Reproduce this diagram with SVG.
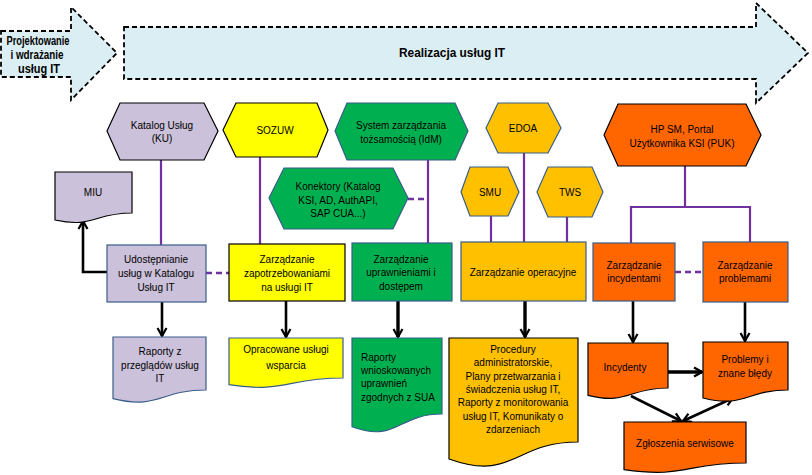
<svg xmlns="http://www.w3.org/2000/svg" width="812" height="475" viewBox="0 0 812 475">
<defs>
<style>
text{font-family:"Liberation Sans",Arial,sans-serif;font-size:10px;fill:#000;text-anchor:middle}
.hdr{font-weight:bold;font-size:12px}
.phase{fill:#DAEEF3;stroke:#000;stroke-width:1.8;stroke-dasharray:5,3}
.lav{fill:#CCC1DA}
.yel{fill:#FFFF00}
.grn{fill:#00B050}
.gold{fill:#FFC000}
.org{fill:#FF6600}
.bk{stroke:#000;stroke-width:1.2}
.bl{stroke:#385D8A;stroke-width:1.2}
.pl{stroke:#7030A0;stroke-width:2.2;fill:none}
.pd{stroke:#7030A0;stroke-width:2.5;fill:none;stroke-dasharray:6,4}
.ar{stroke:#000;stroke-width:2.6;fill:none}
.ar2{stroke:#000;stroke-width:3.4;fill:none}
.l{text-anchor:start}
</style>
<marker id="ah" viewBox="0 0 12 12" markerUnits="userSpaceOnUse" markerWidth="12" markerHeight="12" refX="10" refY="6" orient="auto-start-reverse">
<path d="M2,1.5 L10,6 L2,10.5" fill="none" stroke="#000" stroke-width="2.2"/>
</marker>
</defs>

<g id="phase-projektowanie">
<path class="phase" d="M1,31 H71 V7 L117,53 L71,100 V77 H1 Z"/>
<text class="hdr" x="38" y="45" textLength="63" lengthAdjust="spacingAndGlyphs">Projektowanie</text>
<text class="hdr" x="37" y="59" textLength="53" lengthAdjust="spacingAndGlyphs">i wdrażanie</text>
<text class="hdr" x="39" y="73" textLength="42" lengthAdjust="spacingAndGlyphs">usług IT</text>
</g>
<g id="phase-realizacja">
<path class="phase" d="M124,27 H756 V3 L808,53 L756,103 V79 H124 Z"/>
<text class="hdr" x="452" y="57" font-size="13" textLength="106" lengthAdjust="spacingAndGlyphs">Realizacja usług IT</text>
</g>

<g id="connectors">
<path class="pl" d="M161,160 V245"/>
<path class="pl" d="M260,157 V244"/>
<path class="pl" d="M428,160 V243"/>
<path class="pd" d="M408,199 H428"/>
<path class="pl" d="M524,153 V242"/>
<path class="pl" d="M491,216 V242"/>
<path class="pl" d="M567,217 V242"/>
<path class="pl" d="M685,166 V207 M631,243 V207 H750 V242"/>
<path class="pd" d="M206,273 H229"/>
<path class="pd" d="M675,272 H703"/>
<path class="ar" d="M107,272 H83 V221" marker-end="url(#ah)"/>
<path class="ar" d="M162,302 V336" marker-end="url(#ah)"/>
<path class="ar" d="M286,301 V337" marker-end="url(#ah)"/>
<path class="ar2" d="M398,301 V337" marker-end="url(#ah)"/>
<path class="ar2" d="M525,301 V337" marker-end="url(#ah)"/>
<path class="ar" d="M633,301 V342" marker-end="url(#ah)"/>
<path class="ar" d="M745,302 V341" marker-end="url(#ah)"/>
<path class="ar2" d="M668,372 H702" marker-end="url(#ah)"/>
<path class="ar" d="M631,396 L681,421" marker-end="url(#ah)"/>
<path class="ar" d="M683,421 L733,398" marker-start="url(#ah)" marker-end="url(#ah)"/>
</g>

<g id="katalog-uslug">
<polygon class="lav bk" points="107,131 120,103 204,103 218,131 204,160 120,160"/>
<text x="162" y="128.5">Katalog Usług</text>
<text x="162" y="142">(KU)</text>
</g>
<g id="sozuw">
<polygon class="yel bk" points="223,130 236,103 317,103 328,130 317,157 236,157"/>
<text x="275" y="133.5">SOZUW</text>
</g>
<g id="idm">
<polygon class="grn bl" points="335,131 347,103 455,103 468,131 455,160 347,160"/>
<text x="401" y="128.5">System zarządzania</text>
<text x="401" y="142.5">tożsamością (IdM)</text>
</g>
<g id="konektory">
<polygon class="grn bl" points="269,198 284,168 393,168 408,198 393,229 284,229"/>
<text x="338" y="189.5">Konektory (Katalog</text>
<text x="338" y="203.5">KSI, AD, AuthAPI,</text>
<text x="338" y="216.5">SAP CUA...)</text>
</g>
<g id="edoa">
<polygon class="gold bl" points="486,128 498,103 548,103 561,128 548,153 498,153"/>
<text x="523" y="131.5">EDOA</text>
</g>
<g id="smu">
<polygon class="gold bl" points="461,192 470,167 508,167 519,192 508,216 470,216"/>
<text x="490" y="195.5">SMU</text>
</g>
<g id="tws">
<polygon class="gold bl" points="537,192 548,167 592,167 603,192 592,217 548,217"/>
<text x="570" y="195.5">TWS</text>
</g>
<g id="hpsm">
<polygon class="org bk" points="604,135 618,104 746,104 761,135 746,166 618,166"/>
<text x="682" y="132.5">HP SM, Portal</text>
<text x="682" y="146.5">Użytkownika KSI (PUK)</text>
</g>

<g id="miu">
<path class="lav bk" d="M55,172 H132 V213 C93.5,213 93.5,228.4 55,220 Z"/>
<text x="93" y="195.5">MIU</text>
</g>

<g id="udostepnianie">
<rect class="lav bl" x="107" y="245" width="99" height="57"/>
<text x="156" y="262.5">Udostępnianie</text>
<text x="156" y="276.5">usług w Katalogu</text>
<text x="156" y="290.5">Usług IT</text>
</g>
<g id="zapotrzebowania">
<rect class="yel bk" x="229" y="244" width="116" height="57"/>
<text x="287" y="262.5">Zarządzanie</text>
<text x="287" y="276.5">zapotrzebowaniami</text>
<text x="287" y="290.5">na usługi IT</text>
</g>
<g id="uprawnienia">
<rect class="grn bl" x="352" y="243" width="100" height="58"/>
<text x="401" y="262.5">Zarządzanie</text>
<text x="401" y="275.5">uprawnieniami i</text>
<text x="401" y="289.5">dostępem</text>
</g>
<g id="operacyjne">
<rect class="gold bl" x="461" y="242" width="125" height="59"/>
<text x="523" y="275.5">Zarządzanie operacyjne</text>
</g>
<g id="incydentami">
<rect class="org bl" x="593" y="243" width="82" height="58"/>
<text x="634" y="268.5">Zarządzanie</text>
<text x="634" y="281.5">incydentami</text>
</g>
<g id="problemami">
<rect class="org bl" x="703" y="242" width="85" height="60"/>
<text x="745" y="268.5">Zarządzanie</text>
<text x="745" y="281.5">problemami</text>
</g>

<g id="raporty-przegladow">
<path class="lav bl" d="M113,337 H206 V390 C159.5,390 159.5,410 113,398.6 Z"/>
<text x="160" y="354.5">Raporty z</text>
<text x="160" y="368.5">przeglądów usług</text>
<text x="160" y="381.5">IT</text>
</g>
<g id="opracowane">
<path class="yel bl" d="M229,338 H343 V378 C286,378 286,393.4 229,384.7 Z"/>
<text x="286" y="352.5">Opracowane usługi</text>
<text x="286" y="368.5">wsparcia</text>
</g>
<g id="raporty-wnioskowanych">
<path class="grn bl" d="M352,338 H442 V414 C397,414 397,443.3 352,426.7 Z"/>
<text class="l" x="361" y="360.5">Raporty</text>
<text class="l" x="361" y="373.5">wnioskowanych</text>
<text class="l" x="361" y="386.5">uprawnień</text>
<text class="l" x="361" y="400.5">zgodnych z SUA</text>
</g>
<g id="procedury">
<path class="gold bk" d="M449,338 H578 V442 C513.5,442 513.5,482 449,459 Z"/>
<text x="513" y="352.5">Procedury</text>
<text x="513" y="365.5">administratorskie,</text>
<text x="513" y="379.5">Plany przetwarzania i</text>
<text x="513" y="392.5">świadczenia usług IT,</text>
<text x="513" y="405.5">Raporty z monitorowania</text>
<text x="513" y="419.5">usług IT, Komunikaty o</text>
<text x="513" y="432.5">zdarzeniach</text>
</g>
<g id="incydenty">
<path class="org bk" d="M588,343 H668 V388 C628,388 628,405.2 588,395.3 Z"/>
<text x="625" y="370.5">Incydenty</text>
</g>
<g id="problemy">
<path class="org bk" d="M703,342 H788 V390 C745.5,390 745.5,408.5 703,398 Z"/>
<text x="745" y="362.5">Problemy i</text>
<text x="745" y="376.5">znane błędy</text>
</g>
<g id="zgloszenia">
<path class="org bk" d="M624,422 H746 V463 C685,463 685,478.6 624,469.6 Z"/>
<text x="685" y="446.5">Zgłoszenia serwisowe</text>
</g>
</svg>
